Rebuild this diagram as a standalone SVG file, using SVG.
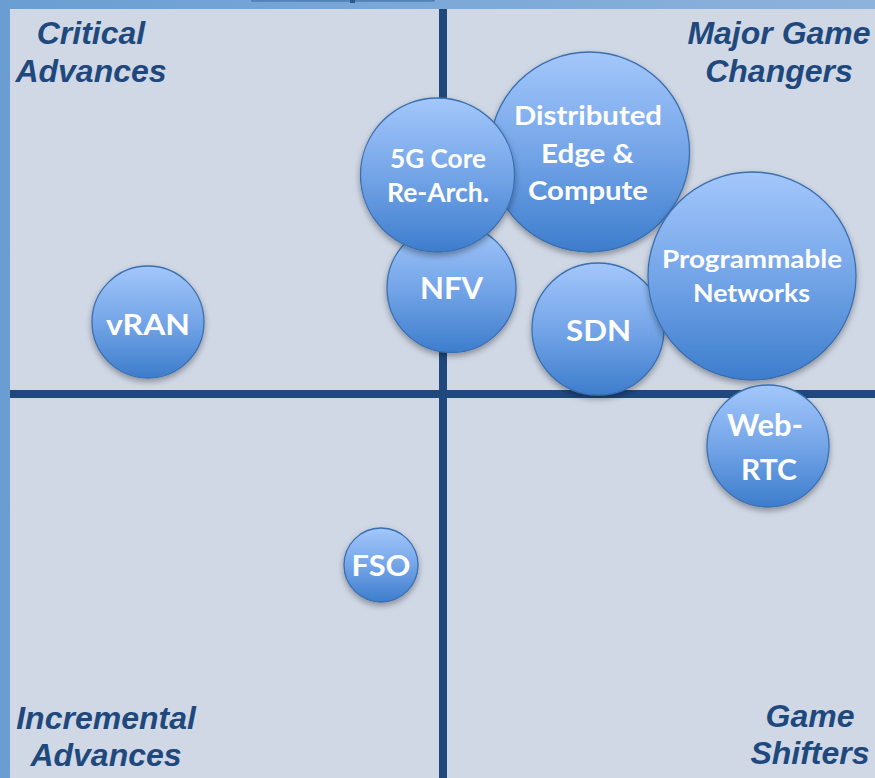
<svg xmlns="http://www.w3.org/2000/svg" width="875" height="778" viewBox="0 0 875 778">
  <defs>
    <linearGradient id="frameGrad" x1="0" y1="0" x2="1" y2="0">
      <stop offset="0" stop-color="#6a9ed2"/>
      <stop offset="1" stop-color="#8db3dc"/>
    </linearGradient>
    <linearGradient id="bubbleGrad" x1="0" y1="0" x2="0" y2="1">
      <stop offset="0" stop-color="#a3c7fb"/>
      <stop offset="0.5" stop-color="#74a5e8"/>
      <stop offset="1" stop-color="#3d7dcc"/>
    </linearGradient>
    <filter id="shadow" x="-20%" y="-20%" width="140%" height="150%">
      <feDropShadow dx="0" dy="3" stdDeviation="3" flood-color="#000" flood-opacity="0.35"/>
    </filter>
  </defs>
  <style>
    .quad { font-family: "Liberation Sans", Arial, sans-serif; font-weight: bold; font-style: italic; font-size: 32px; fill: #1f497d; text-anchor: middle; }
    .bubble circle { fill: url(#bubbleGrad); stroke: #3a6fb0; stroke-width: 1.3; filter: url(#shadow); }
    .bubble text { font-family: Lato, "Open Sans", sans-serif; font-weight: bold; fill: #ffffff; text-anchor: middle; }
    .axis { fill: #1f497d; }
  </style>

  <!-- frame and panel -->
  <rect x="0" y="0" width="875" height="778" fill="url(#frameGrad)"/>
  <rect x="10" y="9" width="865" height="769" fill="#d0d8e6"/>
  <!-- clipped title tab along the top edge -->
  <rect x="252" y="-20" width="182" height="21" fill="#6b9dd2" stroke="#3a69a0" stroke-width="1"/>
  <rect x="350" y="0" width="5" height="3" fill="#2a5a90"/>

  <!-- quadrant axes -->
  <g id="axes">
    <rect class="axis" x="439" y="9" width="8" height="769"/>
    <rect class="axis" x="10" y="390" width="865" height="8"/>
  </g>

  <!-- quadrant labels -->
  <g id="quadrant-labels">
    <text class="quad" x="91" y="44">Critical</text>
    <text class="quad" x="91" y="82">Advances</text>
    <text class="quad" x="779" y="44">Major Game</text>
    <text class="quad" x="779" y="82">Changers</text>
    <text class="quad" x="106" y="729">Incremental</text>
    <text class="quad" x="106" y="766">Advances</text>
    <text class="quad" x="810" y="727">Game</text>
    <text class="quad" x="810" y="764">Shifters</text>
  </g>

  <!-- technology bubbles -->
  <g id="vran" class="bubble">
    <circle cx="148" cy="322" r="56"/>
    <text x="148" y="335" font-size="29" textLength="84" lengthAdjust="spacingAndGlyphs">vRAN</text>
  </g>
  <g id="fso" class="bubble">
    <circle cx="381" cy="565" r="37"/>
    <text x="381" y="576" font-size="29" textLength="59" lengthAdjust="spacingAndGlyphs">FSO</text>
  </g>
  <g id="nfv" class="bubble">
    <circle cx="451.5" cy="288" r="64.5"/>
    <text x="451.5" y="299" font-size="31" textLength="63" lengthAdjust="spacingAndGlyphs">NFV</text>
  </g>
  <g id="distributed-edge" class="bubble">
    <circle cx="589.5" cy="152" r="100"/>
    <text x="588" y="125" font-size="27" textLength="148" lengthAdjust="spacingAndGlyphs">Distributed</text>
    <text x="587.5" y="163" font-size="27" textLength="93" lengthAdjust="spacingAndGlyphs">Edge &amp;</text>
    <text x="588" y="200" font-size="27" textLength="120" lengthAdjust="spacingAndGlyphs">Compute</text>
  </g>
  <g id="core-5g" class="bubble">
    <circle cx="437.5" cy="175" r="77"/>
    <text x="438" y="168" font-size="26" textLength="96" lengthAdjust="spacingAndGlyphs">5G Core</text>
    <text x="438" y="202" font-size="26" textLength="102" lengthAdjust="spacingAndGlyphs">Re-Arch.</text>
  </g>
  <g id="sdn" class="bubble">
    <circle cx="598" cy="329" r="66"/>
    <text x="598.5" y="341" font-size="29" textLength="65" lengthAdjust="spacingAndGlyphs">SDN</text>
  </g>
  <g id="programmable-networks" class="bubble">
    <circle cx="752" cy="276" r="104"/>
    <text x="752" y="268" font-size="25" textLength="180" lengthAdjust="spacingAndGlyphs">Programmable</text>
    <text x="751.5" y="302" font-size="25" textLength="117" lengthAdjust="spacingAndGlyphs">Networks</text>
  </g>
  <g id="web-rtc" class="bubble">
    <circle cx="768" cy="446" r="61"/>
    <text x="765" y="436" font-size="31" textLength="76" lengthAdjust="spacingAndGlyphs">Web-</text>
    <text x="769" y="480" font-size="29" textLength="56" lengthAdjust="spacingAndGlyphs">RTC</text>
  </g>
</svg>
